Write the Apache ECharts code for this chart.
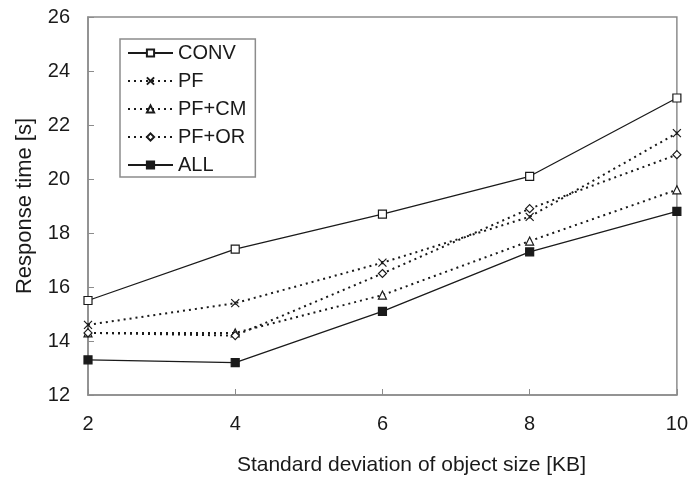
<!DOCTYPE html>
<html>
<head>
<meta charset="utf-8">
<script src="https://cdn.jsdelivr.net/npm/echarts@6/dist/echarts.min.js"></script>
<style>
  html, body { margin: 0; padding: 0; background: #fff; }
  #chart { width: 691px; height: 481px; }
</style>
</head>
<body>
<div id="chart"></div>
<script>
// Standard deviation of object size [KB]
const xValues = [2, 4, 6, 8, 10];

// Response time [s] per scheme
const conv = [15.5, 17.4, 18.7, 20.1, 23.0];
const pf = [14.6, 15.4, 16.9, 18.6, 21.7];
const pfCm = [14.3, 14.3, 15.7, 17.7, 19.6];
const pfOr = [14.3, 14.2, 16.5, 18.9, 20.9];
const all = [13.3, 13.2, 15.1, 17.3, 18.8];

const seriesNames = ['CONV', 'PF', 'PF+CM', 'PF+OR', 'ALL'];

const FONT = 'Liberation Sans, Arial, sans-serif';
const INK = '#1a1a1a';
const FRAME = '#8c8c8c';

function pairs(ys) {
  return xValues.map((x, i) => [x, ys[i]]);
}

function makeSeries(name, ys, symbol, dotted, filled, size) {
  return {
    name: name,
    type: 'line',
    data: pairs(ys),
    symbol: symbol,
    symbolSize: size,
    showSymbol: true,
    lineStyle: {
      color: INK,
      width: dotted ? 2 : 1.3,
      type: dotted ? [2, 4] : 'solid'
    },
    itemStyle: {
      color: filled ? INK : '#fff',
      borderColor: INK,
      borderWidth: 1.2,
      opacity: 1
    },
    emphasis: { disabled: true },
    animation: false,
    z: 3
  };
}

const crossPath = 'path://M0,0L10,10M10,0L0,10M5,3L5,7';

const chart = echarts.init(document.getElementById('chart'), null, { renderer: 'canvas' });

chart.setOption({
  backgroundColor: '#fff',
  animation: false,
  grid: {
    left: 88, right: 14, top: 17, bottom: 84,
    show: true,
    borderColor: FRAME,
    borderWidth: 1.5,
    backgroundColor: 'transparent'
  },
  legend: {
    orient: 'vertical',
    left: 120,
    top: 39,
    data: seriesNames,
    itemWidth: 45,
    itemHeight: 9,
    itemGap: 8,
    padding: [4, 9, 2, 7],
    borderColor: FRAME,
    borderWidth: 1.5,
    backgroundColor: '#fff',
    selectedMode: false,
    textStyle: { fontFamily: FONT, fontSize: 20, color: INK, lineHeight: 20 }
  },
  xAxis: {
    type: 'value',
    min: 2, max: 10, interval: 2,
    name: 'Standard deviation of object size [KB]',
    nameLocation: 'middle',
    nameGap: 60,
    nameTextStyle: { fontFamily: FONT, fontSize: 21, color: INK, padding: [0, 0, 0, 58] },
    axisLine: { show: true, lineStyle: { color: FRAME, width: 1.5 } },
    axisTick: { show: true, inside: true, length: 6, lineStyle: { color: FRAME } },
    axisLabel: { fontFamily: FONT, fontSize: 20, color: INK, margin: 19 },
    splitLine: { show: false }
  },
  yAxis: {
    type: 'value',
    min: 12, max: 26, interval: 2,
    name: 'Response time [s]',
    nameLocation: 'middle',
    nameGap: 52,
    nameTextStyle: { fontFamily: FONT, fontSize: 22, color: INK },
    axisLine: { show: true, lineStyle: { color: FRAME, width: 1.5 } },
    axisTick: { show: true, inside: true, length: 6, lineStyle: { color: FRAME } },
    axisLabel: { fontFamily: FONT, fontSize: 20, color: INK, margin: 18 },
    splitLine: { show: false }
  },
  series: [
    makeSeries('CONV', conv, 'rect', false, false, 8),
    makeSeries('PF', pf, crossPath, true, false, 8),
    makeSeries('PF+CM', pfCm, 'triangle', true, false, 8),
    makeSeries('PF+OR', pfOr, 'diamond', true, false, 8),
    makeSeries('ALL', all, 'rect', false, true, 8)
  ]
});
</script>
</body>
</html>
